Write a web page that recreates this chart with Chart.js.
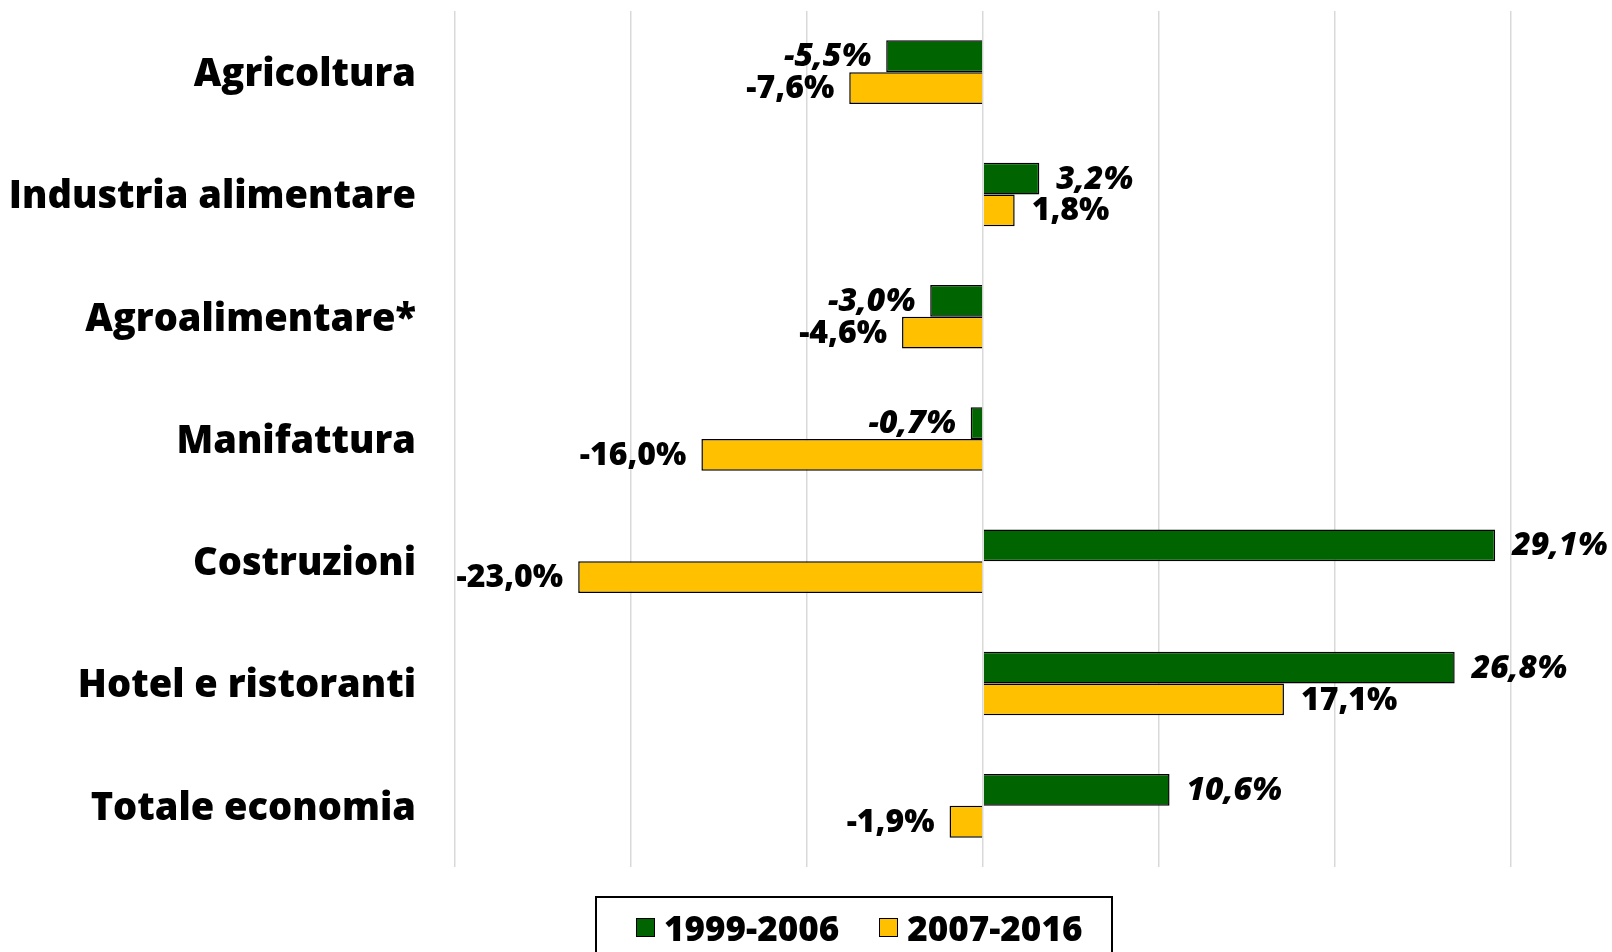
<!DOCTYPE html>
<html>
<head>
<meta charset="utf-8">
<script src="https://cdn.jsdelivr.net/npm/chart.js@4.4.0/dist/chart.umd.min.js"></script>
<style>
  body { margin: 0; background: #fff; overflow: hidden; }
  #wrap { position: relative; width: 1612px; height: 952px; }
  #legend {
    position: absolute; left: 595px; top: 896px; width: 518px; height: 80px;
    border: 2px solid #000; box-sizing: border-box;
    display: flex; justify-content: flex-start; align-items: flex-start;
    padding-top: 6px; padding-left: 39px; white-space: nowrap;
    font-family: "Open Sans", sans-serif; font-weight: 800; font-size: 35px; color: #000;
  }
  #legend .item { display: flex; align-items: center; margin-right: 40px; flex-shrink: 0; }
  #legend .sw { width: 17px; height: 17px; border: 1.5px solid #000; margin-right: 9px; flex-shrink: 0; }
</style>
</head>
<body>
<div id="wrap">
  <canvas id="chart" width="1612" height="952"></canvas>
  <div id="legend"></div>
</div>
<script>
////// Data //////
const categories = ['Agricoltura', 'Industria alimentare', 'Agroalimentare*', 'Manifattura', 'Costruzioni', 'Hotel e ristoranti', 'Totale economia'];
const seriesNames = ['1999-2006', '2007-2016'];
const values9906 = [-5.5, 3.2, -3.0, -0.7, 29.1, 26.8, 10.6];
const values0716 = [-7.6, 1.8, -4.6, -16.0, -23.0, 17.1, -1.9];
const colors = ['#006400', '#FFC000'];

////// value labels at bar ends //////
const valueLabels = {
  id: 'valueLabels',
  afterDatasetsDraw(chart) {
    const ctx = chart.ctx;
    ctx.save();
    chart.data.datasets.forEach(function(ds, i) {
      const meta = chart.getDatasetMeta(i);
      ctx.font = (i === 0 ? 'italic ' : '') + '800 32px "Open Sans", sans-serif';
      ctx.fillStyle = '#000';
      ctx.textBaseline = 'middle';
      meta.data.forEach(function(bar, j) {
        const v = ds.data[j];
        const txt = v.toFixed(1).replace('.', ',') + '%';
        if (v < 0) {
          ctx.textAlign = 'right';
          ctx.fillText(txt, bar.x - 15, bar.y + 1);
        } else {
          ctx.textAlign = 'left';
          ctx.fillText(txt, bar.x + 17, bar.y + 1);
        }
      });
    });
    ctx.restore();
  }
};

const config = {
  type: 'bar',
  data: {
    labels: categories,
    datasets: [
      { label: seriesNames[0], data: values9906, backgroundColor: colors[0], borderColor: '#000', borderWidth: 1.5 },
      { label: seriesNames[1], data: values0716, backgroundColor: colors[1], borderColor: '#000', borderWidth: 1.5 }
    ]
  },
  options: {
    indexAxis: 'y',
    responsive: false,
    animation: false,
    layout: { padding: { left: 0, right: 101, top: 11, bottom: 85 } },
    datasets: { bar: { categoryPercentage: 0.52, barPercentage: 1.0 } },
    plugins: {
      legend: { display: false },
      tooltip: { enabled: false }
    },
    scales: {
      x: {
        min: -30, max: 30,
        ticks: { display: false, stepSize: 10 },
        grid: { color: '#d9d9d9', lineWidth: 1.5, drawTicks: false },
        border: { display: false },
        afterFit: function(scale) { scale.height = 0; }
      },
      y: {
        ticks: { color: '#000', padding: 39, labelOffset: 3, font: { family: '"Open Sans", sans-serif', weight: '800', size: 38 } },
        grid: { display: false, drawTicks: false },
        border: { display: false },
        afterFit: function(scale) {
          scale.width = 455;
          scale.paddingTop = 0;
          scale.paddingBottom = 0;
        }
      }
    }
  },
  plugins: [valueLabels]
};

var myChart = new Chart(document.getElementById('chart'), config);

////// legend //////
const legend = document.getElementById('legend');
seriesNames.forEach(function(name, i) {
  const item = document.createElement('div');
  item.className = 'item';
  item.innerHTML = '<span class="sw" style="background:' + colors[i] + '"></span><span>' + name + '</span>';
  legend.appendChild(item);
});
</script>
</body>
</html>
